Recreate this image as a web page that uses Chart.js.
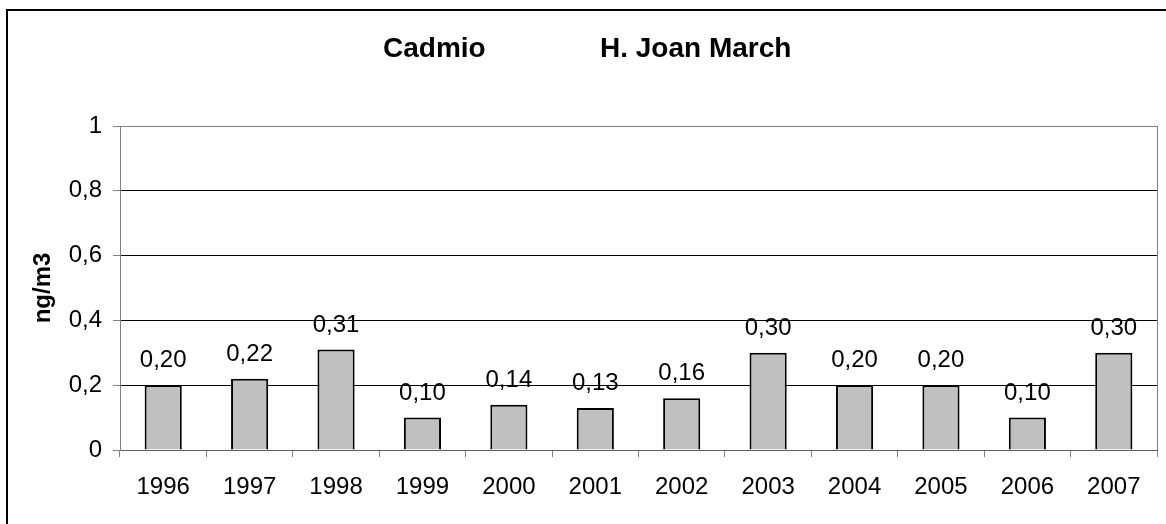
<!DOCTYPE html>
<html>
<head>
<meta charset="utf-8">
<script src="https://cdn.jsdelivr.net/npm/chart.js@4/dist/chart.umd.min.js"></script>
<style>
  html, body { margin: 0; padding: 0; background: #fff; }
  #wrap { width: 1166px; height: 524px; }
</style>
</head>
<body>
<div id="wrap"><canvas id="cadmio"></canvas></div>
<script>
const years = ['1996', '1997', '1998', '1999', '2000', '2001', '2002', '2003', '2004', '2005', '2006', '2007'];
const values = [0.20, 0.22, 0.31, 0.10, 0.14, 0.13, 0.16, 0.30, 0.20, 0.20, 0.10, 0.30];
const titleParts = ['Cadmio', 'H. Joan March'];
const yTitle = 'ng/m3';

const FONT = "'Liberation Sans', Arial, sans-serif";

function comma(v, digits) {
    return v.toFixed(digits).replace('.', ',');
}

// frame, title and right edge of the plot
const decor = {
    id: 'decor',
    beforeDraw(chart) {
        const ctx = chart.ctx;
        ctx.save();
        ctx.fillStyle = '#fff';
        ctx.fillRect(0, 0, chart.width, chart.height);
        ctx.strokeStyle = '#000';
        ctx.lineWidth = 2;
        ctx.strokeRect(7, 10, chart.width + 20, chart.height + 20);
        ctx.fillStyle = '#000';
        ctx.font = 'bold 28px ' + FONT;
        ctx.textBaseline = 'alphabetic';
        ctx.textAlign = 'left';
        ctx.fillText(titleParts[0], 383, 57);
        ctx.fillText(titleParts[1], 600, 57);
        ctx.restore();
    },
    afterDatasetsDraw(chart) {
        const ctx = chart.ctx;
        const a = chart.chartArea;
        ctx.save();
        ctx.strokeStyle = '#808080';
        ctx.lineWidth = 1;
        ctx.beginPath();
        ctx.moveTo(a.right + 0.5, a.top);
        ctx.lineTo(a.right + 0.5, a.bottom);
        ctx.stroke();

        // value labels above bars
        ctx.fillStyle = '#000';
        ctx.font = '24px ' + FONT;
        ctx.textAlign = 'center';
        ctx.textBaseline = 'alphabetic';
        chart.getDatasetMeta(0).data.forEach((bar, i) => {
            ctx.fillText(comma(values[i], 2), bar.x, bar.y - 18);
        });
        ctx.restore();
    }
};

new Chart(document.getElementById('cadmio'), {
    type: 'bar',
    data: {
        labels: years,
        datasets: [{
            data: values,
            backgroundColor: '#C0C0C0',
            borderColor: '#000',
            borderWidth: 2,
            barPercentage: 0.43,
            categoryPercentage: 1
        }]
    },
    options: {
        responsive: true,
        maintainAspectRatio: false,
        animation: false,
        layout: { padding: { top: 126, right: 9, left: 0, bottom: 0 } },
        plugins: {
            legend: { display: false },
            title: { display: false },
            tooltip: { enabled: false }
        },
        scales: {
            x: {
                offset: true,
                grid: { drawOnChartArea: false, color: '#808080', tickLength: 7 },
                border: { color: '#606060' },
                ticks: { color: '#000', font: { family: FONT, size: 24 }, padding: 16, maxRotation: 0 },
                afterFit: s => { s.height = 74; }
            },
            y: {
                min: 0,
                max: 1,
                ticks: {
                    stepSize: 0.2,
                    color: '#000',
                    font: { family: FONT, size: 24 },
                    padding: 11,
                    callback: v => v === 0 || v === 1 ? String(v) : comma(v, 1)
                },
                grid: {
                    color: ctx => ctx.tick && ctx.tick.value === 1 ? '#808080' : '#000',
                    tickColor: '#808080',
                    tickLength: 7
                },
                border: { color: '#808080' },
                title: {
                    display: true,
                    text: yTitle,
                    color: '#000',
                    font: { family: FONT, size: 24, weight: 'bold' },
                    padding: { top: 29, bottom: 0 }
                },
                afterFit: s => { s.width = 120; }
            }
        }
    },
    plugins: [decor]
});
</script>
</body>
</html>
